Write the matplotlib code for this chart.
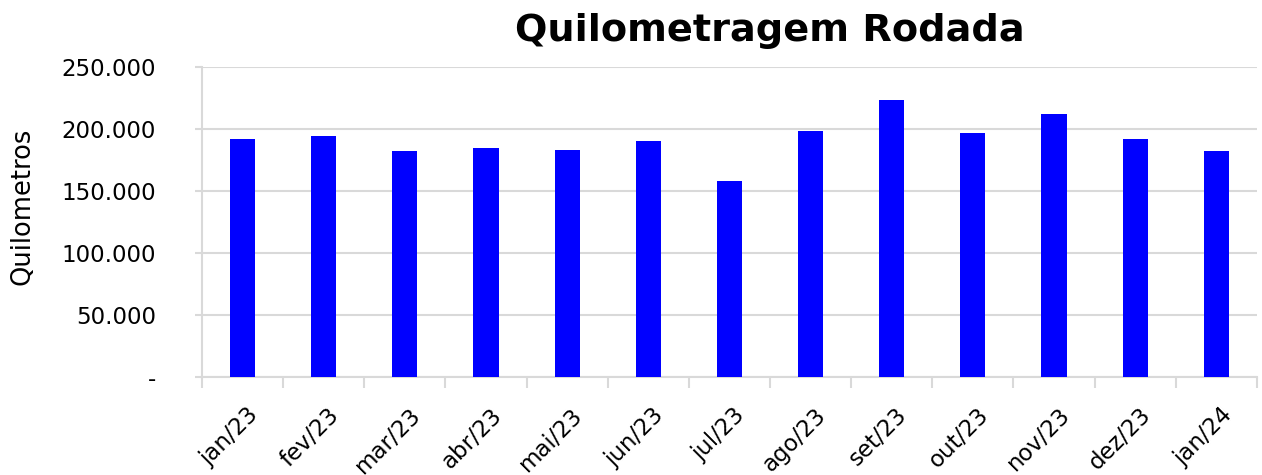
import numpy as np
import matplotlib.pyplot as plt
from matplotlib.ticker import FuncFormatter

# dados
meses = ['jan/23', 'fev/23', 'mar/23', 'abr/23', 'mai/23', 'jun/23', 'jul/23',
         'ago/23', 'set/23', 'out/23', 'nov/23', 'dez/23', 'jan/24']
km = [191800, 194700, 182400, 184600, 182900, 190400, 157900,
      198000, 223600, 196700, 212300, 192100, 182400]

fig = plt.figure(figsize=(12.62, 4.75), dpi=100)
ax = fig.add_axes([0.160, 0.206, 0.836, 0.653])

x = np.arange(len(meses))
ax.bar(x, km, width=0.31, color='#0000FF', zorder=3)

ax.set_xlim(-0.5, len(meses) - 0.5)
ax.set_ylim(0, 250000)
ax.set_yticks(np.arange(0, 250001, 50000))


def fmt(v, pos):
    if v == 0:
        return '-'
    return f'{v:,.0f}'.replace(',', '.')


ax.yaxis.set_major_formatter(FuncFormatter(fmt))
ax.grid(axis='y', color='#d9d9d9', linewidth=1.5, zorder=0)

# ticks nos limites das categorias, rotulos no centro
ax.set_xticks(np.arange(-0.5, len(meses), 1))
ax.set_xticklabels([])
ax.set_xticks(x + 0.05, minor=True)
ax.set_xticklabels(meses, minor=True, rotation=45, ha='right', rotation_mode='anchor', fontsize=16.5)
ax.tick_params(axis='x', which='major', length=8, color='#d9d9d9', width=1.5)
ax.tick_params(axis='x', which='minor', length=0, pad=19)
ax.tick_params(axis='y', length=5, color='#d9d9d9', width=1.5, labelsize=16.5, pad=28)

for s in ['top', 'right']:
    ax.spines[s].set_visible(False)
for s in ['left', 'bottom']:
    ax.spines[s].set_color('#d9d9d9')
    ax.spines[s].set_linewidth(1.5)

ax.set_ylabel('Quilometros', fontsize=18.5)
ax.yaxis.set_label_coords(-0.158, 0.55)
fig.text(0.61, 0.935, 'Quilometragem Rodada', fontsize=27.5, fontweight='bold', ha='center', va='center')

plt.savefig('out.png', dpi=100)
